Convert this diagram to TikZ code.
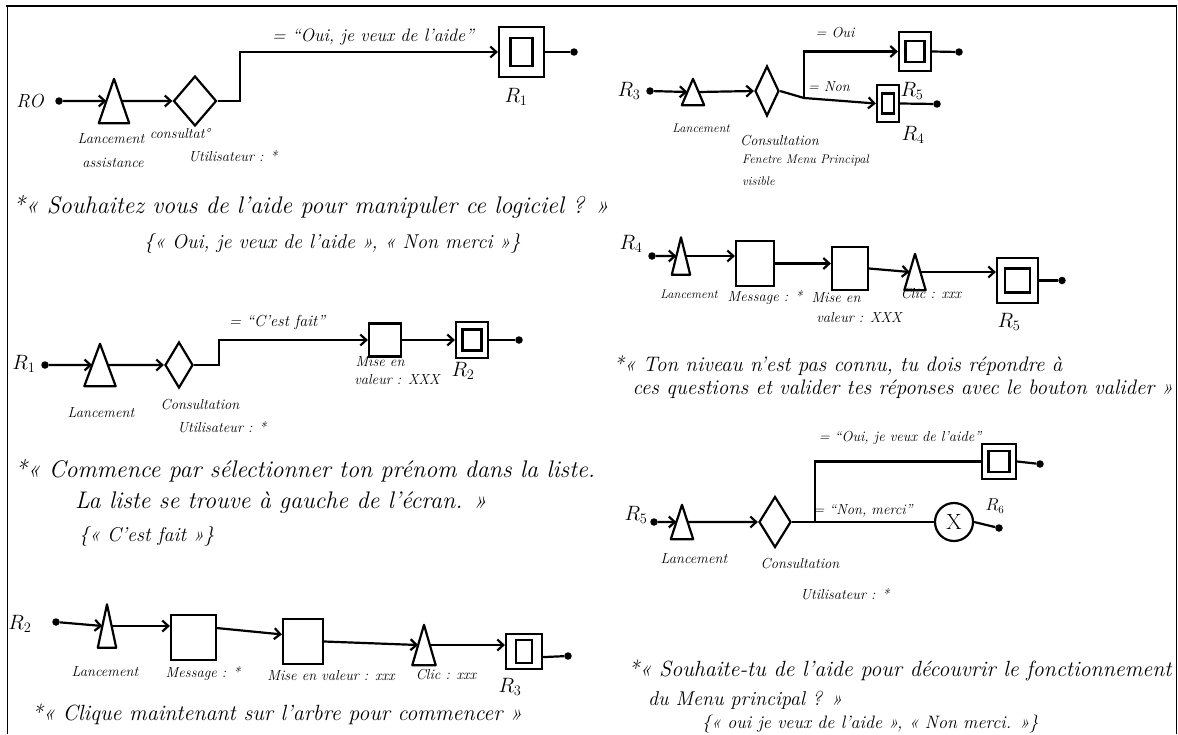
\documentclass[tikz,border=0pt]{standalone}
\usepackage{fontspec}
\usetikzlibrary{arrows.meta,shapes.geometric,calc}
\newcommand\mytri[5]{%
  \node[inner sep=0,minimum width=#4,minimum height=#5] (#1) at (#2,#3) {};
  \draw[ln,line join=round] (#1.south west) -- (#1.north) -- (#1.south east) -- cycle;
  \coordinate (#1l) at ($(#1.south west)!.5!(#1.north)$);
  \coordinate (#1r) at ($(#1.south east)!.5!(#1.north)$);}
\begin{document}
\begin{tikzpicture}[x=1pt,y=-1pt,
  ln/.style={line width=2.2pt},
  arr/.style={ln,-{Straight Barb[length=6pt,width=11pt]}},
  dot/.style={circle,fill,inner sep=0,minimum size=7.5},
  dia/.style={diamond,draw,line width=2.2pt,inner sep=0},
  bx/.style={draw,line width=2.2pt,inner sep=0},
  rbox/.style n args={4}{draw,line width=2.2pt,inner sep=0,minimum width=#1,minimum height=#2,
    path picture={\draw[line width=2.2pt] ([xshift={-0.5*#3},yshift={-0.5*#4}]path picture bounding box.center) rectangle ([xshift={0.5*#3},yshift={0.5*#4}]path picture bounding box.center);}},
  fs/.style={font=\fontsize{#1}{#1}\selectfont\itshape},
  qt/.style={fs=24,inner sep=0},
  qr/.style={fs=21,inner sep=0},
  lab/.style={fs=14.5,inner sep=0},
  slab/.style={fs=12.5,inner sep=0},
  rl/.style={font=\fontsize{20}{22}\selectfont,inner sep=0}]
\useasboundingbox (0,0) rectangle (1178,734);
\fill[white] (0,0) rectangle (1178,734);
\draw[line width=1pt] (7,734) -- (7,6) -- (1176,6) -- (1176,734);
\draw[line width=2.4pt] (6,6) -- (1177,6);

% ---------- R0 ----------
\node[fs=19,inner sep=0] (r0) at (30,101) {RO};
\node[dot] (d0) at (59,101) {};
\mytri{t0}{114}{101}{30}{44}
\node[dia,minimum width=43,minimum height=50] (k0) at (195,101) {};
\coordinate (b0) at (240,101);
\node[rbox={45}{50}{22}{28}] (q1) at (521.5,52) {};
\node[dot] (e1) at (574,52) {};
\draw[arr] (d0) -- (t0l);
\draw[arr] (t0r) -- (k0.west);
\draw[arr] (k0.east) -- (b0) |- (q1.west);
\draw[ln] (q1.east) -- (e1);
\node[fs=18,inner sep=0] (l0a) at (373,37) {= ``Oui, je veux de l'aide''};
\node[rl] (n1) at (516,97) {$R_1$};
\node[lab] (l0b) at (111,139) {Lancement};
\node[lab] (l0c) at (113,163) {assistance};
\node[lab] (l0d) at (180,134) {consultat°};
\node[lab] (l0e) at (233,156) {Utilisateur : *};
\node[qt] (q0a) at (311,207) {*« Souhaitez vous de l'aide pour manipuler ce logiciel ? »};
\node[fs=20,inner sep=0,anchor=west] (q0b) at (144,243) {\{« Oui, je veux de l'aide », « Non merci »\}};

% ---------- R1 ----------
\node[rl] (r1) at (24,364) {$R_1$};
\node[dot] (d1) at (45,365) {};
\mytri{t1}{100}{365}{31}{42}
\node[dia,minimum width=28,minimum height=46] (k1) at (179,365) {};
\coordinate (b1) at (219,365);
\node[bx,minimum width=32,minimum height=33] (m1) at (385,340) {};
\node[rbox={32}{36}{19}{21}] (q2) at (472,340) {};
\node[dot] (e2) at (519,340) {};
\draw[arr] (d1) -- (t1l);
\draw[arr] (t1r) -- (k1.west);
\draw[arr] (k1.east) -- (b1) |- (m1.west);
\draw[arr] (m1.east) -- (q2.west);
\draw[ln] (q2.east) -- (e2);
\node[fs=16,inner sep=0] (l1a) at (277,322) {= ``C'est fait''};
\node[rl] (n2) at (463,371) {$R_2$};
\node[lab] (l1b) at (380,362) {Mise en};
\node[lab] (l1c) at (397,380) {valeur : XXX};
\node[lab] (l1d) at (101,413) {Lancement};
\node[lab] (l1e) at (200,405) {Consultation};
\node[lab] (l1f) at (222,427) {Utilisateur : *};
\node[qt,anchor=west] (q1a) at (15,471) {*« Commence par sélectionner ton prénom dans la liste.};
\node[qt,anchor=west] (q1b) at (75,503) {La liste se trouve à gauche de l'écran. »};
\node[fs=20,inner sep=0,anchor=west] (q1c) at (79,536) {\{« C'est fait »\}};

% ---------- R2 ----------
\node[rl] (r2) at (20,624) {$R_2$};
\node[dot] (d2) at (56,622) {};
\mytri{t2}{107}{626}{18}{43}
\node[bx,minimum width=45,minimum height=45] (g2) at (193.5,637.5) {};
\node[bx,minimum width=40,minimum height=45] (mm2) at (303,641.5) {};
\mytri{t2b}{424}{645}{23}{40}
\node[rbox={36}{35}{16}{23}] (q3) at (524,651.5) {};
\node[dot] (e3) at (568,656) {};
\draw[arr] (d2) -- (t2l);
\draw[arr] (t2r) -- (t2r -| g2.west);
\draw[arr] ($(g2.north east)!0.3!(g2.south east)$) -- ($(mm2.north west)!0.35!(mm2.south west)$);
\draw[arr] (mm2.east) -- (t2bl);
\draw[arr] (t2br) -- (t2br -| q3.west);
\draw[ln] ($(q3.north east)!0.65!(q3.south east)$) -- (e3);
\node[lab] (l2a) at (105,672) {Lancement};
\node[lab] (l2b) at (203,674) {Message : *};
\node[lab] (l2c) at (331,676) {Mise en valeur : xxx};
\node[lab] (l2d) at (446,675) {Clic : xxx};
\node[rl] (n3) at (510,687) {$R_3$};
\node[fs=22,inner sep=0] (q2a) at (277,714) {*« Clique maintenant sur l'arbre pour commencer »};

% ---------- R3 ----------
\node[rl] (r3) at (629,91) {$R_3$};
\node[dot] (d3) at (650,91) {};
\mytri{t3}{693}{92}{22}{26}
\node[dia,minimum width=24,minimum height=50] (k3) at (767,91) {};
\coordinate (b3) at (804,98);
\node[rbox={32}{39}{19}{21}] (q5a) at (915,51.5) {};
\node[rbox={22}{37}{12}{20}] (q4) at (888,103.5) {};
\node[dot] (e5a) at (959,52) {};
\node[dot] (e4) at (937,104) {};
\draw[arr] (d3) -- (t3l);
\draw[arr] (t3r) -- (k3.west);
\draw[ln] (k3.east) -- (b3);
\draw[arr] (b3) |- (q5a.west);
\draw[arr] (b3) -- (q4.west);
\draw[ln] (q5a.east) -- (e5a);
\draw[ln] (q4.east) -- (e4);
\node[fs=14.5,inner sep=0] (l3a) at (835,33) {= Oui};
\node[fs=14.5,inner sep=0] (l3b) at (829,87) {= Non};
\node[rl] (n5a) at (912,91) {$R_5$};
\node[rl] (n4) at (913,135) {$R_4$};
\node[slab] (l3c) at (701,128) {Lancement};
\node[fs=14.5,inner sep=0,anchor=west] (l3d) at (740,141) {Consultation};
\node[slab,anchor=west] (l3e) at (742,160) {Fenetre Menu Principal};
\node[slab,anchor=west] (l3f) at (742,181) {visible};

% ---------- R4 ----------
\node[rl] (r4) at (631,244) {$R_4$};
\node[dot] (d4) at (652,256) {};
\mytri{t4}{681}{256}{18}{37}
\node[bx,minimum width=38,minimum height=45] (g4) at (755,263.5) {};
\node[bx,minimum width=36,minimum height=43] (mm4) at (850,268.5) {};
\mytri{t4b}{915}{272}{21}{36}
\node[rbox={41}{45}{25}{24}] (q5b) at (1017.5,280.5) {};
\node[dot] (e5b) at (1062,280.5) {};
\draw[arr] (d4) -- (t4l);
\draw[arr] (t4r) -- (t4r -| g4.west);
\draw[arr] (g4.east) -- (g4.east -| mm4.west);
\draw[arr] (mm4.east) -- (t4bl);
\draw[arr] (t4br) -- (t4br -| q5b.west);
\draw[ln] (q5b.east) -- (e5b);
\node[slab] (l4a) at (689,294) {Lancement};
\node[lab] (l4b) at (765,298) {Message : *};
\node[lab] (l4c) at (836,298) {Mise en};
\node[lab] (l4d) at (859,318) {valeur : XXX};
\node[lab] (l4e) at (931,294) {Clic : xxx};
\node[rl] (n5b) at (1009,322) {$R_5$};
\node[qr] (q4a) at (838,366) {*« Ton niveau n'est pas connu, tu dois répondre à};
\node[qr] (q4b) at (903,389) {ces questions et valider tes réponses avec le bouton valider »};

% ---------- R5 ----------
\node[rl] (r5) at (636,515) {$R_5$};
\node[dot] (d5) at (654,522) {};
\mytri{t5}{682}{522}{22}{34}
\node[dia,minimum width=32,minimum height=51] (k5) at (775,522) {};
\coordinate (b5) at (815,522);
\node[rbox={34}{35}{21}{21}] (q6) at (999,461.5) {};
\node[circle,draw,line width=2.2pt,minimum size=38,inner sep=0,font=\fontsize{22}{22}\selectfont] (cx) at (954,522) {X};
\node[dot] (e6) at (1040,464) {};
\node[dot] (ex) at (999,528) {};
\draw[arr] (d5) -- (t5l);
\draw[arr] (t5r) -- (k5.west);
\draw[ln] (k5.east) -- (b5) -- (cx.west);
\draw[ln] (b5) |- (q6.west);
\draw[ln] (q6.east) -- (e6);
\draw[ln] (cx.east) -- (ex);
\node[lab] (l5a) at (900,438) {= ``Oui, je veux de l'aide''};
\node[lab] (l5b) at (863,511) {= ``Non, merci''};
\node[font=\fontsize{16}{16}\selectfont,inner sep=0] (n6) at (995,506) {$R_6$};
\node[lab] (l5c) at (694,559) {Lancement};
\node[lab] (l5d) at (800,564) {Consultation};
\node[lab] (l5e) at (845,594) {Utilisateur : *};
\node[fs=22,inner sep=0] (q5a1) at (900,670) {*« Souhaite-tu de l'aide pour découvrir le fonctionnement};
\node[fs=20,inner sep=0,anchor=west] (q5a2) at (648,700) {du Menu principal ? »};
\node[fs=18,inner sep=0,anchor=west] (q5a3) at (702,724) {\{« oui je veux de l'aide », « Non merci. »\}};
\end{tikzpicture}
\end{document}
